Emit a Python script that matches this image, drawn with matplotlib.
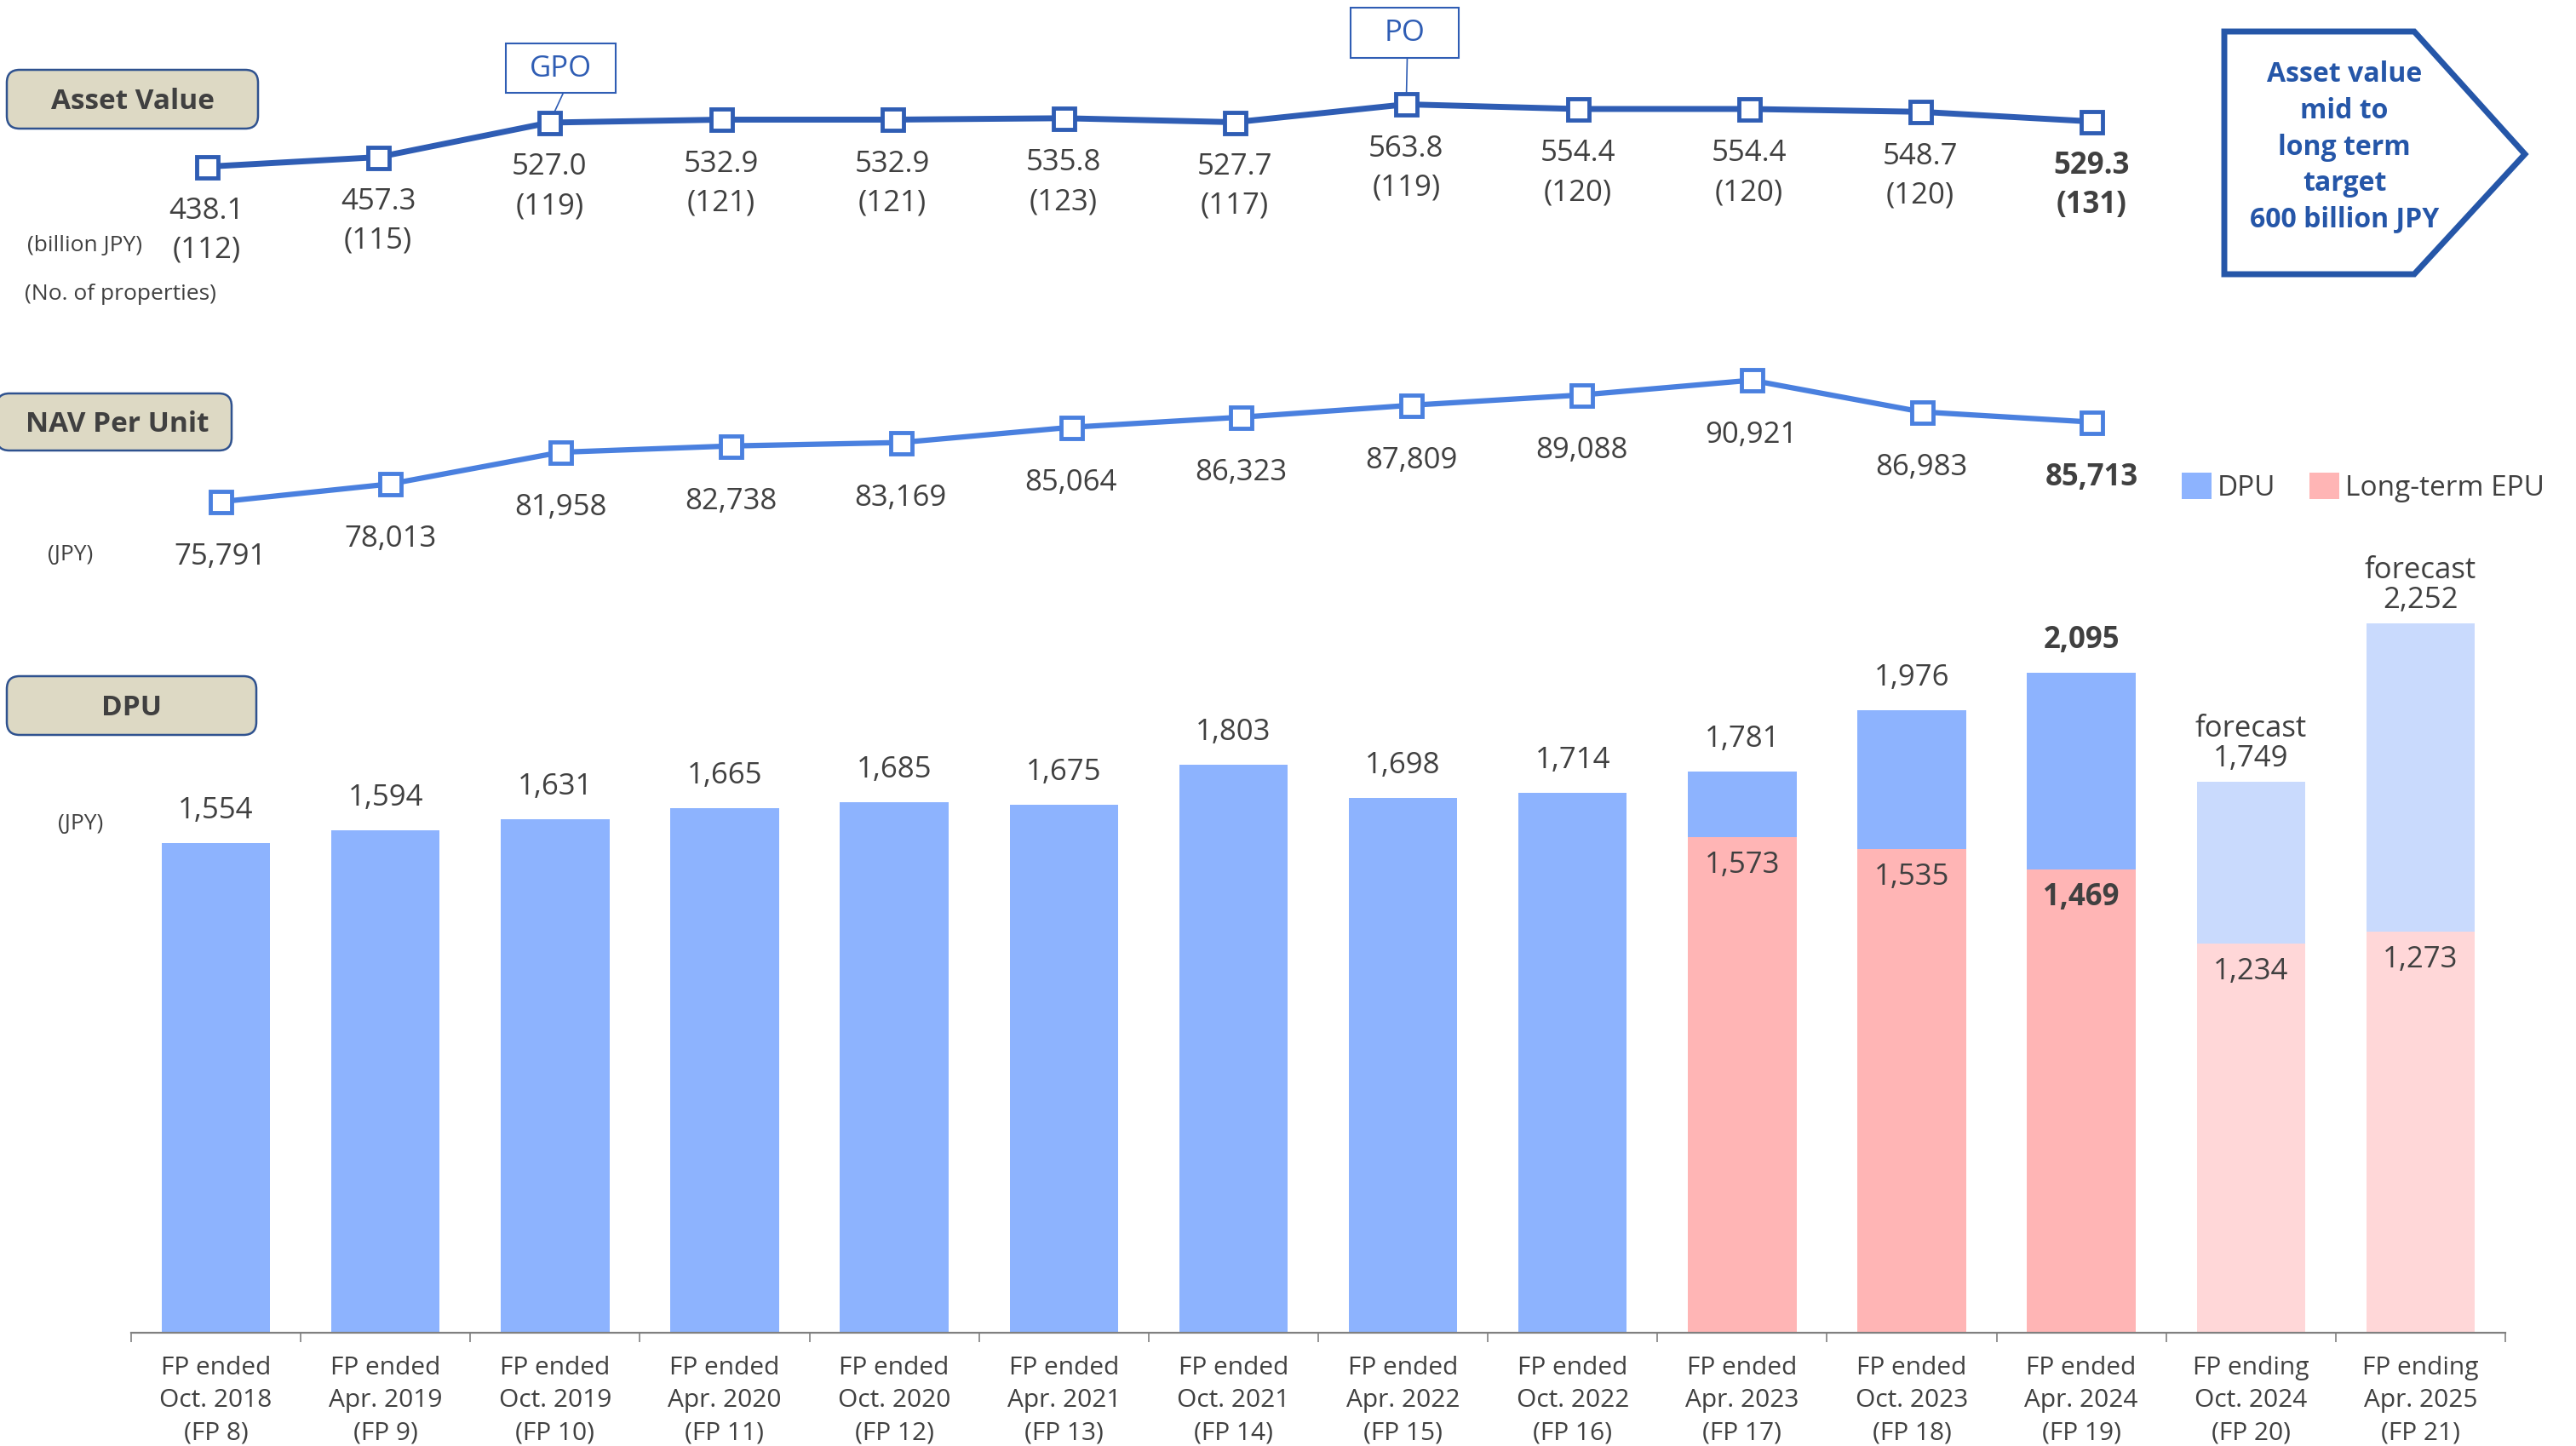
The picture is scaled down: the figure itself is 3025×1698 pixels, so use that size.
import matplotlib.pyplot as plt
from matplotlib import font_manager as fm
from matplotlib.patches import FancyBboxPatch, Polygon, Rectangle, ConnectionPatch

# output size in pixels
W, H = 3025, 1699

# chart data
periods = [
    "FP ended\nOct. 2018\n(FP 8)", "FP ended\nApr. 2019\n(FP 9)", "FP ended\nOct. 2019\n(FP 10)",
    "FP ended\nApr. 2020\n(FP 11)", "FP ended\nOct. 2020\n(FP 12)", "FP ended\nApr. 2021\n(FP 13)",
    "FP ended\nOct. 2021\n(FP 14)", "FP ended\nApr. 2022\n(FP 15)", "FP ended\nOct. 2022\n(FP 16)",
    "FP ended\nApr. 2023\n(FP 17)", "FP ended\nOct. 2023\n(FP 18)", "FP ended\nApr. 2024\n(FP 19)",
    "FP ending\nOct. 2024\n(FP 20)", "FP ending\nApr. 2025\n(FP 21)",
]
asset_value = [438.1, 457.3, 527.0, 532.9, 532.9, 535.8, 527.7, 563.8, 554.4, 554.4, 548.7, 529.3]
properties = [112, 115, 119, 121, 121, 123, 117, 119, 120, 120, 120, 131]
nav_per_unit = [75791, 78013, 81958, 82738, 83169, 85064, 86323, 87809, 89088, 90921, 86983, 85713]
dpu = [1554, 1594, 1631, 1665, 1685, 1675, 1803, 1698, 1714, 1781, 1976, 2095, 1749, 2252]
epu = [None] * 9 + [1573, 1535, 1469, 1234, 1273]
is_forecast = [False] * 12 + [True, True]
offerings = {2: "GPO", 7: "PO"}

TXT = "#404040"
BLUE_DARK = "#2F5DB4"
BLUE_NAV = "#4A80DF"
DPU_COL, DPU_FC = "#8DB3FE", "#C9DAFD"
EPU_COL, EPU_FC = "#FFB5B5", "#FFD7D8"


# pick a sans family that also has a bold face installed
def has_bold(name):
    for f in fm.fontManager.ttflist:
        if f.name == name:
            w = f.weight
            if isinstance(w, str):
                w = fm.weight_dict.get(w, 400)
            if w >= 600:
                return True
    return False


base_font = next((n for n in ["Noto Sans", "Open Sans", "Lato", "Roboto"] if has_bold(n)), "DejaVu Sans")
plt.rcParams["font.family"] = [base_font, "DejaVu Sans"]

fig = plt.figure(figsize=(W / 100, H / 100), dpi=100)

# overlay in pixel coords for decorations
ov = fig.add_axes([0, 0, 1, 1])
ov.set_xlim(0, W)
ov.set_ylim(H, 0)
ov.axis("off")

left, right = 154, 2942

# ---- DPU bars ----
ax_bar = fig.add_axes([left / W, 1 - 1566 / H, (right - left) / W, 888 / H])
ax_bar.patch.set_visible(False)
x = list(range(len(dpu)))
epu_vals = [e if e else 0 for e in epu]
upper = [d - e for d, e in zip(dpu, epu_vals)]
epu_cols = [EPU_FC if f else EPU_COL for f in is_forecast]
dpu_cols = [DPU_FC if f else DPU_COL for f in is_forecast]
bars_epu = ax_bar.bar(x, epu_vals, 0.64, color=epu_cols)
bars_dpu = ax_bar.bar(x, upper, 0.64, bottom=epu_vals, color=dpu_cols)
ax_bar.set_xlim(-0.5, len(dpu) - 0.5)
ax_bar.set_ylim(0, 2400)

for i in x:
    w = "bold" if i == 11 else "normal"
    if is_forecast[i]:
        ax_bar.annotate(f"{dpu[i]:,}", (i, dpu[i]), xytext=(0, 20), textcoords="offset points",
                        ha="center", va="center", fontsize=25, color=TXT)
        ax_bar.annotate("forecast", (i, dpu[i]), xytext=(0, 45), textcoords="offset points",
                        ha="center", va="center", fontsize=25, color=TXT)
    else:
        ax_bar.annotate(f"{dpu[i]:,}", (i, dpu[i]), xytext=(0, 28), textcoords="offset points",
                        ha="center", va="center", fontsize=25, color=TXT, fontweight=w)
    if epu[i]:
        ax_bar.annotate(f"{epu[i]:,}", (i, epu[i]), xytext=(0, -23), textcoords="offset points",
                        ha="center", va="center", fontsize=25, color=TXT, fontweight=w)

for s in ["left", "right", "top"]:
    ax_bar.spines[s].set_visible(False)
ax_bar.spines["bottom"].set_color("#808080")
ax_bar.spines["bottom"].set_linewidth(1.6)
ax_bar.set_yticks([])
ax_bar.set_xticks(x)
ax_bar.set_xticklabels(periods, fontsize=21.5, color=TXT, linespacing=1.43)
ax_bar.set_xticks([i - 0.5 for i in range(len(dpu) + 1)], minor=True)
ax_bar.tick_params(axis="x", which="major", length=0, pad=18.5)
ax_bar.tick_params(axis="x", which="minor", length=8, width=1.2, color="#808080", direction="out")

ax_bar.legend([bars_dpu, bars_epu], ["DPU", "Long-term EPU"], loc="center left",
              bbox_to_anchor=(2562 / W, 1 - 573 / H), bbox_transform=fig.transFigure,
              ncol=2, frameon=False, fontsize=24, handlelength=1.05, handleheight=1.05,
              handletextpad=0.2, columnspacing=1.2, borderpad=0, borderaxespad=0,
              labelcolor=TXT)

# ---- Asset value line ----
ax_a = fig.add_axes([left / W, 1 - 300 / H, (right - left) / W, 240 / H])
ax_a.set_xlim(-0.442, 13.415)
ax_a.set_ylim(260.8, 672.8)
ax_a.axis("off")
ax_a.plot(range(len(asset_value)), asset_value, color=BLUE_DARK, lw=5, marker="s", ms=18,
          mfc="white", mec=BLUE_DARK, mew=3.5, clip_on=False, zorder=3)
for i, (v, p) in enumerate(zip(asset_value, properties)):
    w = "bold" if i == len(asset_value) - 1 else "normal"
    ax_a.annotate(f"{v:.1f}", (i, v), xytext=(0, -37), textcoords="offset points",
                  ha="center", va="center", fontsize=25, color=TXT, fontweight=w)
    ax_a.annotate(f"({p})", (i, v), xytext=(0, -70), textcoords="offset points",
                  ha="center", va="center", fontsize=25, color=TXT, fontweight=w)

# ---- NAV per unit line ----
ax_n = fig.add_axes([left / W, 1 - 660 / H, (right - left) / W, 260 / H])
ax_n.set_xlim(-0.523, 13.43)
ax_n.set_ylim(68399, 95955)
ax_n.axis("off")
ax_n.plot(range(len(nav_per_unit)), nav_per_unit, color=BLUE_NAV, lw=4.5, marker="s", ms=18,
          mfc="white", mec=BLUE_NAV, mew=3.5, clip_on=False, zorder=3)
for i, v in enumerate(nav_per_unit):
    w = "bold" if i == len(nav_per_unit) - 1 else "normal"
    ax_n.annotate(f"{v:,}", (i, v), xytext=(0, -46), textcoords="offset points",
                  ha="center", va="center", fontsize=25, color=TXT, fontweight=w)

# ---- section title boxes ----
for (x0, y0, x1, y1), label in [((8, 83, 303, 152), "Asset Value"),
                                ((-4, 463, 272, 530), "NAV Per Unit"),
                                ((8, 795, 301, 864), "DPU")]:
    ov.add_patch(FancyBboxPatch((x0, y0), x1 - x0, y1 - y0,
                                boxstyle="round,pad=0,rounding_size=15",
                                fc="#DDD9C4", ec="#2F528F", lw=1.8))
    ov.text((x0 + x1) / 2 + (4 if label == "NAV Per Unit" else 0), (y0 + y1) / 2 + 2, label,
            ha="center", va="center", fontsize=24, fontweight="bold", color=TXT)

ov.text(100, 288, "(billion JPY)", ha="center", va="center", fontsize=19, color=TXT)
ov.text(29, 345, "(No. of properties)", ha="left", va="center", fontsize=19, color=TXT)
ov.text(83, 652, "(JPY)", ha="center", va="center", fontsize=19, color=TXT)
ov.text(95, 968, "(JPY)", ha="center", va="center", fontsize=19, color=TXT)

# ---- GPO / PO callouts ----
callout_boxes = {2: (594, 52, 723, 110), 7: (1586, 10, 1713, 69)}
for i, label in offerings.items():
    x0, y0, x1, y1 = callout_boxes[i]
    ov.add_patch(Rectangle((x0, y0), x1 - x0, y1 - y0, fc="white", ec=BLUE_DARK, lw=1.5))
    ov.text((x0 + x1) / 2, (y0 + y1) / 2, label, ha="center", va="center",
            fontsize=25, color=BLUE_DARK)
    con = ConnectionPatch(xyA=((x0 + x1) / 2 + 3, y1), coordsA=ov.transData,
                          xyB=(i, asset_value[i]), coordsB=ax_a.transData,
                          color=BLUE_DARK, lw=1.2, zorder=-1)
    fig.add_artist(con)

# ---- target arrow ----
ov.add_patch(Polygon([(2612, 38), (2835, 38), (2965, 182), (2835, 323), (2612, 323)],
                     closed=True, fc="white", ec="#2556A8", lw=5, joinstyle="miter"))
ov.text(2753, 173, "Asset value\nmid to\nlong term\ntarget\n600 billion JPY",
        ha="center", va="center", fontsize=23, fontweight="bold", color="#2556A8",
        linespacing=1.38)

fig.savefig("out.png", dpi=100)
